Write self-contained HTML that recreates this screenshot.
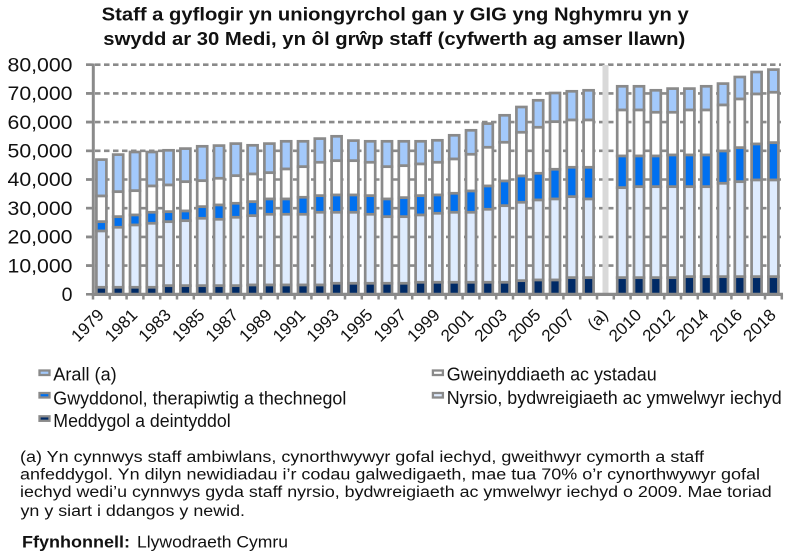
<!DOCTYPE html>
<html><head><meta charset="utf-8"><style>
html,body{margin:0;padding:0;background:#fff;}
svg{display:block;}
text{font-family:"Liberation Sans",Arial,sans-serif;fill:#111;}
.a{fill:#A3C9FB;stroke:#8A8A8A;stroke-width:2.7}
.g{fill:#FFFFFF;stroke:#8A8A8A;stroke-width:2.7}
.s{fill:#0070F0;stroke:#8A8A8A;stroke-width:2.7}
.n{fill:#DEEBFE;stroke:#8A8A8A;stroke-width:2.7}
.m{fill:#002A66;stroke:#8A8A8A;stroke-width:2.7}
.lg{stroke-width:2.3}
</style></head><body>
<svg width="799" height="558" viewBox="0 0 799 558" xmlns="http://www.w3.org/2000/svg">
<rect width="799" height="558" fill="#fff"/>
<!-- title -->
<text x="101.7" y="20.7" font-size="18.5" font-weight="bold" textLength="587" lengthAdjust="spacingAndGlyphs">Staff a gyflogir yn uniongyrchol gan y GIG yng Nghymru yn y</text>
<text x="103.3" y="45" font-size="18.5" font-weight="bold" textLength="582" lengthAdjust="spacingAndGlyphs">swydd ar 30 Medi, yn ôl grŵp staff (cyfwerth ag amser llawn)</text>

<!-- gridlines -->
<g stroke="#8A8A8A" stroke-width="2.6" stroke-dasharray="5.5 3.5" fill="none">
<line x1="86" y1="64.7" x2="781" y2="64.7"/>
<line x1="86" y1="93.4" x2="781" y2="93.4"/>
<line x1="86" y1="122.1" x2="781" y2="122.1"/>
<line x1="86" y1="150.8" x2="781" y2="150.8"/>
<line x1="86" y1="179.5" x2="781" y2="179.5"/>
<line x1="86" y1="208.2" x2="781" y2="208.2"/>
<line x1="86" y1="236.9" x2="781" y2="236.9"/>
<line x1="86" y1="265.6" x2="781" y2="265.6"/>
</g>
<g stroke="#8A8A8A" stroke-width="2.6">
<line x1="86" y1="64.7" x2="93" y2="64.7"/>
<line x1="86" y1="93.4" x2="93" y2="93.4"/>
<line x1="86" y1="122.1" x2="93" y2="122.1"/>
<line x1="86" y1="150.8" x2="93" y2="150.8"/>
<line x1="86" y1="179.5" x2="93" y2="179.5"/>
<line x1="86" y1="208.2" x2="93" y2="208.2"/>
<line x1="86" y1="236.9" x2="93" y2="236.9"/>
<line x1="86" y1="265.6" x2="93" y2="265.6"/>
<line x1="86" y1="294.3" x2="93" y2="294.3"/>
</g>

<!-- gap band -->
<rect x="602.5" y="65" width="6" height="229" fill="#D9D9D9"/>

<!-- bars -->
<g>
<!-- 1979 -->
<rect class="a" x="96.4" y="159.6" width="10" height="36.4"/><rect class="g" x="96.4" y="196" width="10" height="25.7"/><rect class="s" x="96.4" y="221.7" width="10" height="9.3"/><rect class="n" x="96.4" y="231" width="10" height="56.3"/><rect class="m" x="96.4" y="287.3" width="10" height="7.2"/>
<!-- 1980 -->
<rect class="a" x="113.2" y="154.6" width="10" height="37.1"/><rect class="g" x="113.2" y="191.7" width="10" height="25"/><rect class="s" x="113.2" y="216.7" width="10" height="10.6"/><rect class="n" x="113.2" y="227.3" width="10" height="60"/><rect class="m" x="113.2" y="287.3" width="10" height="7.2"/>
<!-- 1981 -->
<rect class="a" x="130" y="152" width="10" height="38.7"/><rect class="g" x="130" y="190.7" width="10" height="24.3"/><rect class="s" x="130" y="215" width="10" height="10"/><rect class="n" x="130" y="225" width="10" height="62.3"/><rect class="m" x="130" y="287.3" width="10" height="7.2"/>
<!-- 1982 -->
<rect class="a" x="146.8" y="152" width="10" height="34"/><rect class="g" x="146.8" y="186" width="10" height="26.3"/><rect class="s" x="146.8" y="212.3" width="10" height="11"/><rect class="n" x="146.8" y="223.3" width="10" height="64"/><rect class="m" x="146.8" y="287.3" width="10" height="7.2"/>
<!-- 1983 -->
<rect class="a" x="163.6" y="150.3" width="10" height="34.7"/><rect class="g" x="163.6" y="185" width="10" height="26.7"/><rect class="s" x="163.6" y="211.7" width="10" height="10"/><rect class="n" x="163.6" y="221.7" width="10" height="64"/><rect class="m" x="163.6" y="285.7" width="10" height="8.8"/>
<!-- 1984 -->
<rect class="a" x="180.4" y="148.6" width="10" height="33.1"/><rect class="g" x="180.4" y="181.7" width="10" height="29.3"/><rect class="s" x="180.4" y="211" width="10" height="9.7"/><rect class="n" x="180.4" y="220.7" width="10" height="65"/><rect class="m" x="180.4" y="285.7" width="10" height="8.8"/>
<!-- 1985 -->
<rect class="a" x="197.2" y="146.3" width="10" height="34.4"/><rect class="g" x="197.2" y="180.7" width="10" height="26"/><rect class="s" x="197.2" y="206.7" width="10" height="11.6"/><rect class="n" x="197.2" y="218.3" width="10" height="67.4"/><rect class="m" x="197.2" y="285.7" width="10" height="8.8"/>
<!-- 1986 -->
<rect class="a" x="214" y="145.6" width="10" height="32.7"/><rect class="g" x="214" y="178.3" width="10" height="26.7"/><rect class="s" x="214" y="205" width="10" height="14.3"/><rect class="n" x="214" y="219.3" width="10" height="66.4"/><rect class="m" x="214" y="285.7" width="10" height="8.8"/>
<!-- 1987 -->
<rect class="a" x="230.8" y="143.6" width="10" height="32.1"/><rect class="g" x="230.8" y="175.7" width="10" height="27.6"/><rect class="s" x="230.8" y="203.3" width="10" height="14"/><rect class="n" x="230.8" y="217.3" width="10" height="68.4"/><rect class="m" x="230.8" y="285.7" width="10" height="8.8"/>
<!-- 1988 -->
<rect class="a" x="247.6" y="145.3" width="10" height="28.7"/><rect class="g" x="247.6" y="174" width="10" height="27.7"/><rect class="s" x="247.6" y="201.7" width="10" height="14"/><rect class="n" x="247.6" y="215.7" width="10" height="69.3"/><rect class="m" x="247.6" y="285" width="10" height="9.5"/>
<!-- 1989 -->
<rect class="a" x="264.4" y="143.6" width="10" height="29.1"/><rect class="g" x="264.4" y="172.7" width="10" height="26.3"/><rect class="s" x="264.4" y="199" width="10" height="15.3"/><rect class="n" x="264.4" y="214.3" width="10" height="70.7"/><rect class="m" x="264.4" y="285" width="10" height="9.5"/>
<!-- 1990 -->
<rect class="a" x="281.2" y="141.3" width="10" height="27.7"/><rect class="g" x="281.2" y="169" width="10" height="30"/><rect class="s" x="281.2" y="199" width="10" height="15.3"/><rect class="n" x="281.2" y="214.3" width="10" height="70.7"/><rect class="m" x="281.2" y="285" width="10" height="9.5"/>
<!-- 1991 -->
<rect class="a" x="298" y="141.3" width="10" height="25.4"/><rect class="g" x="298" y="166.7" width="10" height="30.6"/><rect class="s" x="298" y="197.3" width="10" height="17"/><rect class="n" x="298" y="214.3" width="10" height="70.7"/><rect class="m" x="298" y="285" width="10" height="9.5"/>
<!-- 1992 -->
<rect class="a" x="314.8" y="138.6" width="10" height="23.7"/><rect class="g" x="314.8" y="162.3" width="10" height="33.4"/><rect class="s" x="314.8" y="195.7" width="10" height="16.6"/><rect class="n" x="314.8" y="212.3" width="10" height="72.7"/><rect class="m" x="314.8" y="285" width="10" height="9.5"/>
<!-- 1993 -->
<rect class="a" x="331.6" y="136.3" width="10" height="24.4"/><rect class="g" x="331.6" y="160.7" width="10" height="34.3"/><rect class="s" x="331.6" y="195" width="10" height="17.3"/><rect class="n" x="331.6" y="212.3" width="10" height="71"/><rect class="m" x="331.6" y="283.3" width="10" height="11.2"/>
<!-- 1994 -->
<rect class="a" x="348.4" y="140.6" width="10" height="20.1"/><rect class="g" x="348.4" y="160.7" width="10" height="34.3"/><rect class="s" x="348.4" y="195" width="10" height="17.3"/><rect class="n" x="348.4" y="212.3" width="10" height="71"/><rect class="m" x="348.4" y="283.3" width="10" height="11.2"/>
<!-- 1995 -->
<rect class="a" x="365.2" y="141.3" width="10" height="21"/><rect class="g" x="365.2" y="162.3" width="10" height="33.4"/><rect class="s" x="365.2" y="195.7" width="10" height="18.6"/><rect class="n" x="365.2" y="214.3" width="10" height="69"/><rect class="m" x="365.2" y="283.3" width="10" height="11.2"/>
<!-- 1996 -->
<rect class="a" x="382" y="141.3" width="10" height="25.4"/><rect class="g" x="382" y="166.7" width="10" height="32.3"/><rect class="s" x="382" y="199" width="10" height="17.7"/><rect class="n" x="382" y="216.7" width="10" height="66.6"/><rect class="m" x="382" y="283.3" width="10" height="11.2"/>
<!-- 1997 -->
<rect class="a" x="398.8" y="141.3" width="10" height="24.4"/><rect class="g" x="398.8" y="165.7" width="10" height="32"/><rect class="s" x="398.8" y="197.7" width="10" height="19"/><rect class="n" x="398.8" y="216.7" width="10" height="66.6"/><rect class="m" x="398.8" y="283.3" width="10" height="11.2"/>
<!-- 1998 -->
<rect class="a" x="415.6" y="141.3" width="10" height="22.7"/><rect class="g" x="415.6" y="164" width="10" height="31.7"/><rect class="s" x="415.6" y="195.7" width="10" height="19.3"/><rect class="n" x="415.6" y="215" width="10" height="67.3"/><rect class="m" x="415.6" y="282.3" width="10" height="12.2"/>
<!-- 1999 -->
<rect class="a" x="432.4" y="140.3" width="10" height="22"/><rect class="g" x="432.4" y="162.3" width="10" height="32.7"/><rect class="s" x="432.4" y="195" width="10" height="18.3"/><rect class="n" x="432.4" y="213.3" width="10" height="69"/><rect class="m" x="432.4" y="282.3" width="10" height="12.2"/>
<!-- 2000 -->
<rect class="a" x="449.2" y="135.3" width="10" height="23.7"/><rect class="g" x="449.2" y="159" width="10" height="34.3"/><rect class="s" x="449.2" y="193.3" width="10" height="19"/><rect class="n" x="449.2" y="212.3" width="10" height="70"/><rect class="m" x="449.2" y="282.3" width="10" height="12.2"/>
<!-- 2001 -->
<rect class="a" x="466" y="130.3" width="10" height="24"/><rect class="g" x="466" y="154.3" width="10" height="36.7"/><rect class="s" x="466" y="191" width="10" height="21.3"/><rect class="n" x="466" y="212.3" width="10" height="70"/><rect class="m" x="466" y="282.3" width="10" height="12.2"/>
<!-- 2002 -->
<rect class="a" x="482.8" y="123.6" width="10" height="23.7"/><rect class="g" x="482.8" y="147.3" width="10" height="38.7"/><rect class="s" x="482.8" y="186" width="10" height="23.3"/><rect class="n" x="482.8" y="209.3" width="10" height="73"/><rect class="m" x="482.8" y="282.3" width="10" height="12.2"/>
<!-- 2003 -->
<rect class="a" x="499.6" y="115.3" width="10" height="27"/><rect class="g" x="499.6" y="142.3" width="10" height="38.7"/><rect class="s" x="499.6" y="181" width="10" height="24.7"/><rect class="n" x="499.6" y="205.7" width="10" height="76.6"/><rect class="m" x="499.6" y="282.3" width="10" height="12.2"/>
<!-- 2004 -->
<rect class="a" x="516.4" y="107" width="10" height="25.3"/><rect class="g" x="516.4" y="132.3" width="10" height="43.7"/><rect class="s" x="516.4" y="176" width="10" height="26.3"/><rect class="n" x="516.4" y="202.3" width="10" height="78.4"/><rect class="m" x="516.4" y="280.7" width="10" height="13.8"/>
<!-- 2005 -->
<rect class="a" x="533.2" y="100.3" width="10" height="27"/><rect class="g" x="533.2" y="127.3" width="10" height="46"/><rect class="s" x="533.2" y="173.3" width="10" height="26.7"/><rect class="n" x="533.2" y="200" width="10" height="80"/><rect class="m" x="533.2" y="280" width="10" height="14.5"/>
<!-- 2006 -->
<rect class="a" x="550" y="93" width="10" height="28.7"/><rect class="g" x="550" y="121.7" width="10" height="47.6"/><rect class="s" x="550" y="169.3" width="10" height="29.7"/><rect class="n" x="550" y="199" width="10" height="81"/><rect class="m" x="550" y="280" width="10" height="14.5"/>
<!-- 2007 -->
<rect class="a" x="566.8" y="91.3" width="10" height="28.7"/><rect class="g" x="566.8" y="120" width="10" height="47.3"/><rect class="s" x="566.8" y="167.3" width="10" height="29.4"/><rect class="n" x="566.8" y="196.7" width="10" height="81"/><rect class="m" x="566.8" y="277.7" width="10" height="16.8"/>
<!-- 2008 -->
<rect class="a" x="583.6" y="90.3" width="10" height="29.7"/><rect class="g" x="583.6" y="120" width="10" height="47.3"/><rect class="s" x="583.6" y="167.3" width="10" height="31.7"/><rect class="n" x="583.6" y="199" width="10" height="78.7"/><rect class="m" x="583.6" y="277.7" width="10" height="16.8"/>
<!-- 2009 -->
<rect class="a" x="617.2" y="86.3" width="10" height="23.7"/><rect class="g" x="617.2" y="110" width="10" height="46"/><rect class="s" x="617.2" y="156" width="10" height="31.7"/><rect class="n" x="617.2" y="187.7" width="10" height="90"/><rect class="m" x="617.2" y="277.7" width="10" height="16.8"/>
<!-- 2010 -->
<rect class="a" x="634" y="86.3" width="10" height="23.7"/><rect class="g" x="634" y="110" width="10" height="46"/><rect class="s" x="634" y="156" width="10" height="30.7"/><rect class="n" x="634" y="186.7" width="10" height="91"/><rect class="m" x="634" y="277.7" width="10" height="16.8"/>
<!-- 2011 -->
<rect class="a" x="650.8" y="90.3" width="10" height="22"/><rect class="g" x="650.8" y="112.3" width="10" height="43.7"/><rect class="s" x="650.8" y="156" width="10" height="30.7"/><rect class="n" x="650.8" y="186.7" width="10" height="91"/><rect class="m" x="650.8" y="277.7" width="10" height="16.8"/>
<!-- 2012 -->
<rect class="a" x="667.6" y="88.6" width="10" height="23.7"/><rect class="g" x="667.6" y="112.3" width="10" height="42.7"/><rect class="s" x="667.6" y="155" width="10" height="31.7"/><rect class="n" x="667.6" y="186.7" width="10" height="91"/><rect class="m" x="667.6" y="277.7" width="10" height="16.8"/>
<!-- 2013 -->
<rect class="a" x="684.4" y="88.6" width="10" height="21.4"/><rect class="g" x="684.4" y="110" width="10" height="45"/><rect class="s" x="684.4" y="155" width="10" height="31.7"/><rect class="n" x="684.4" y="186.7" width="10" height="90"/><rect class="m" x="684.4" y="276.7" width="10" height="17.8"/>
<!-- 2014 -->
<rect class="a" x="701.2" y="86.3" width="10" height="23.7"/><rect class="g" x="701.2" y="110" width="10" height="45"/><rect class="s" x="701.2" y="155" width="10" height="31.7"/><rect class="n" x="701.2" y="186.7" width="10" height="90"/><rect class="m" x="701.2" y="276.7" width="10" height="17.8"/>
<!-- 2015 -->
<rect class="a" x="718" y="83.6" width="10" height="21.4"/><rect class="g" x="718" y="105" width="10" height="46"/><rect class="s" x="718" y="151" width="10" height="32.3"/><rect class="n" x="718" y="183.3" width="10" height="93.4"/><rect class="m" x="718" y="276.7" width="10" height="17.8"/>
<!-- 2016 -->
<rect class="a" x="734.8" y="77" width="10" height="22"/><rect class="g" x="734.8" y="99" width="10" height="48.7"/><rect class="s" x="734.8" y="147.7" width="10" height="34"/><rect class="n" x="734.8" y="181.7" width="10" height="95"/><rect class="m" x="734.8" y="276.7" width="10" height="17.8"/>
<!-- 2017 -->
<rect class="a" x="751.6" y="72" width="10" height="22"/><rect class="g" x="751.6" y="94" width="10" height="50"/><rect class="s" x="751.6" y="144" width="10" height="36"/><rect class="n" x="751.6" y="180" width="10" height="96.7"/><rect class="m" x="751.6" y="276.7" width="10" height="17.8"/>
<!-- 2018 -->
<rect class="a" x="768.4" y="69.6" width="10" height="22.7"/><rect class="g" x="768.4" y="92.3" width="10" height="50.4"/><rect class="s" x="768.4" y="142.7" width="10" height="37.3"/><rect class="n" x="768.4" y="180" width="10" height="96.7"/><rect class="m" x="768.4" y="276.7" width="10" height="17.8"/>
</g>

<!-- axes -->
<line x1="93.3" y1="63.5" x2="93.3" y2="296" stroke="#8A8A8A" stroke-width="3"/>
<line x1="92" y1="294.4" x2="783" y2="294.4" stroke="#8A8A8A" stroke-width="3.2"/>
<g stroke="#8A8A8A" stroke-width="2.5">
<line x1="93" y1="294" x2="93" y2="299.5"/><line x1="109.8" y1="294" x2="109.8" y2="299.5"/><line x1="126.6" y1="294" x2="126.6" y2="299.5"/><line x1="143.4" y1="294" x2="143.4" y2="299.5"/><line x1="160.2" y1="294" x2="160.2" y2="299.5"/><line x1="177" y1="294" x2="177" y2="299.5"/><line x1="193.8" y1="294" x2="193.8" y2="299.5"/><line x1="210.6" y1="294" x2="210.6" y2="299.5"/><line x1="227.4" y1="294" x2="227.4" y2="299.5"/><line x1="244.2" y1="294" x2="244.2" y2="299.5"/><line x1="261" y1="294" x2="261" y2="299.5"/><line x1="277.8" y1="294" x2="277.8" y2="299.5"/><line x1="294.6" y1="294" x2="294.6" y2="299.5"/><line x1="311.4" y1="294" x2="311.4" y2="299.5"/><line x1="328.2" y1="294" x2="328.2" y2="299.5"/><line x1="345" y1="294" x2="345" y2="299.5"/><line x1="361.8" y1="294" x2="361.8" y2="299.5"/><line x1="378.6" y1="294" x2="378.6" y2="299.5"/><line x1="395.4" y1="294" x2="395.4" y2="299.5"/><line x1="412.2" y1="294" x2="412.2" y2="299.5"/><line x1="429" y1="294" x2="429" y2="299.5"/><line x1="445.8" y1="294" x2="445.8" y2="299.5"/><line x1="462.6" y1="294" x2="462.6" y2="299.5"/><line x1="479.4" y1="294" x2="479.4" y2="299.5"/><line x1="496.2" y1="294" x2="496.2" y2="299.5"/><line x1="513" y1="294" x2="513" y2="299.5"/><line x1="529.8" y1="294" x2="529.8" y2="299.5"/><line x1="546.6" y1="294" x2="546.6" y2="299.5"/><line x1="563.4" y1="294" x2="563.4" y2="299.5"/><line x1="580.2" y1="294" x2="580.2" y2="299.5"/><line x1="597" y1="294" x2="597" y2="299.5"/><line x1="613.8" y1="294" x2="613.8" y2="299.5"/><line x1="630.6" y1="294" x2="630.6" y2="299.5"/><line x1="647.4" y1="294" x2="647.4" y2="299.5"/><line x1="664.2" y1="294" x2="664.2" y2="299.5"/><line x1="681" y1="294" x2="681" y2="299.5"/><line x1="697.8" y1="294" x2="697.8" y2="299.5"/><line x1="714.6" y1="294" x2="714.6" y2="299.5"/><line x1="731.4" y1="294" x2="731.4" y2="299.5"/><line x1="748.2" y1="294" x2="748.2" y2="299.5"/><line x1="765" y1="294" x2="765" y2="299.5"/><line x1="781.8" y1="294" x2="781.8" y2="299.5"/>
</g>

<!-- y labels -->
<g font-size="19.5" text-anchor="end">
<text x="72.5" y="71.4" textLength="65" lengthAdjust="spacingAndGlyphs">80,000</text>
<text x="72.5" y="100.1" textLength="65" lengthAdjust="spacingAndGlyphs">70,000</text>
<text x="72.5" y="128.8" textLength="65" lengthAdjust="spacingAndGlyphs">60,000</text>
<text x="72.5" y="157.5" textLength="65" lengthAdjust="spacingAndGlyphs">50,000</text>
<text x="72.5" y="186.2" textLength="65" lengthAdjust="spacingAndGlyphs">40,000</text>
<text x="72.5" y="214.9" textLength="65" lengthAdjust="spacingAndGlyphs">30,000</text>
<text x="72.5" y="243.6" textLength="65" lengthAdjust="spacingAndGlyphs">20,000</text>
<text x="72.5" y="272.3" textLength="65" lengthAdjust="spacingAndGlyphs">10,000</text>
<text x="72.5" y="301">0</text>
</g>

<!-- x labels -->
<g font-size="17" text-anchor="end">
<text transform="translate(104.9,316) rotate(-45)">1979</text>
<text transform="translate(138.5,316) rotate(-45)">1981</text>
<text transform="translate(172.1,316) rotate(-45)">1983</text>
<text transform="translate(205.7,316) rotate(-45)">1985</text>
<text transform="translate(239.3,316) rotate(-45)">1987</text>
<text transform="translate(272.9,316) rotate(-45)">1989</text>
<text transform="translate(306.5,316) rotate(-45)">1991</text>
<text transform="translate(340.1,316) rotate(-45)">1993</text>
<text transform="translate(373.7,316) rotate(-45)">1995</text>
<text transform="translate(407.3,316) rotate(-45)">1997</text>
<text transform="translate(440.9,316) rotate(-45)">1999</text>
<text transform="translate(474.5,316) rotate(-45)">2001</text>
<text transform="translate(508.1,316) rotate(-45)">2003</text>
<text transform="translate(541.7,316) rotate(-45)">2005</text>
<text transform="translate(575.3,316) rotate(-45)">2007</text>
<text transform="translate(608.9,316) rotate(-45)">(a)</text>
<text transform="translate(642.5,316) rotate(-45)">2010</text>
<text transform="translate(676.1,316) rotate(-45)">2012</text>
<text transform="translate(709.7,316) rotate(-45)">2014</text>
<text transform="translate(743.3,316) rotate(-45)">2016</text>
<text transform="translate(776.9,316) rotate(-45)">2018</text>
</g>

<!-- legend -->
<rect class="a lg" x="39.5" y="370.5" width="10" height="4.5"/>
<rect class="s lg" x="39.5" y="393" width="10" height="4.5"/>
<rect class="m lg" x="39.5" y="416.3" width="10" height="4.5"/>
<rect class="g lg" x="432.9" y="370.5" width="10" height="4.5"/>
<rect class="n lg" x="432.9" y="393" width="10" height="4.5"/>
<g font-size="18">
<text x="53.3" y="380.7" textLength="63.4" lengthAdjust="spacingAndGlyphs">Arall (a)</text>
<text x="53.3" y="404.3" textLength="293" lengthAdjust="spacingAndGlyphs">Gwyddonol, therapiwtig a thechnegol</text>
<text x="53.3" y="427" textLength="177.4" lengthAdjust="spacingAndGlyphs">Meddygol a deintyddol</text>
<text x="446.7" y="380.7" textLength="210" lengthAdjust="spacingAndGlyphs">Gweinyddiaeth ac ystadau</text>
<text x="446.7" y="403.8" textLength="335" lengthAdjust="spacingAndGlyphs">Nyrsio, bydwreigiaeth ac ymwelwyr iechyd</text>
</g>

<!-- footnote -->
<g font-size="15.5">
<text x="20" y="461.8" textLength="684" lengthAdjust="spacingAndGlyphs">(a) Yn cynnwys staff ambiwlans, cynorthwywyr gofal iechyd, gweithwyr cymorth a staff</text>
<text x="20" y="479.5" textLength="740" lengthAdjust="spacingAndGlyphs">anfeddygol. Yn dilyn newidiadau i’r codau galwedigaeth, mae tua 70% o’r cynorthwywyr gofal</text>
<text x="20" y="497.2" textLength="751.7" lengthAdjust="spacingAndGlyphs">iechyd wedi’u cynnwys gyda staff nyrsio, bydwreigiaeth ac ymwelwyr iechyd o 2009. Mae toriad</text>
<text x="20.5" y="516" textLength="224.5" lengthAdjust="spacingAndGlyphs">yn y siart i ddangos y newid.</text>
</g>
<text x="22" y="547.7" font-size="16.5" font-weight="bold" textLength="108" lengthAdjust="spacingAndGlyphs">Ffynhonnell:</text>
<text x="137" y="547.7" font-size="16.5" textLength="151" lengthAdjust="spacingAndGlyphs">Llywodraeth Cymru</text>
</svg>
</body></html>
